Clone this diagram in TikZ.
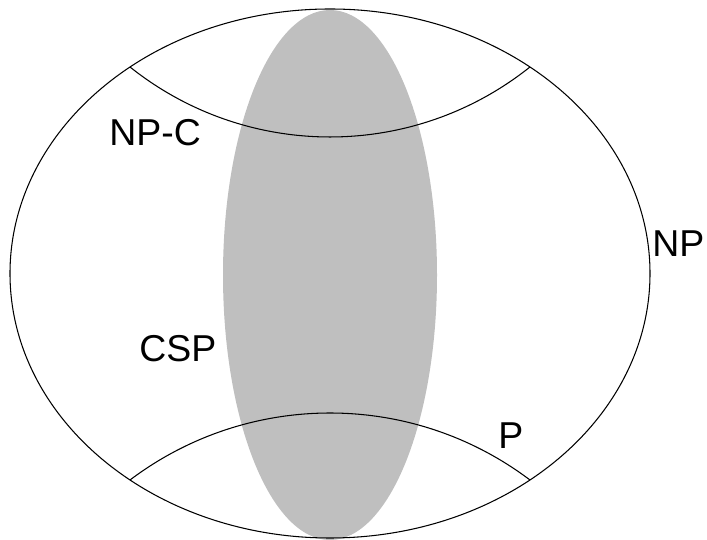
\documentclass[tikz,border=0pt]{standalone}
\usepackage{fontspec}
\setmainfont{Liberation Sans}
\begin{document}
\begin{tikzpicture}[x=0.02cm,y=0.02cm,outline/.style={draw,line width=0.6pt},classname/.style={font=\fontsize{21.3}{25}\selectfont,inner sep=0pt,anchor=base west}]
\useasboundingbox (0,0) rectangle (707,540);
\fill[black!25] (330,265) ellipse [x radius=107,y radius=265];
\draw[outline] (330,266.5) ellipse [x radius=320,y radius=264.5];
% NP-complete and P caps
\draw[outline] (130,473) arc[start angle=231.42,end angle=308.58,radius=320.7];
\draw[outline] (130,60) arc[start angle=127.04,end angle=52.96,radius=332];
\node[classname] (npc) at (109,394) {NP-C};
\node[classname] (np) at (652,283) {NP};
\node[classname] (csp) at (139,178) {CSP};
\node[classname] (p) at (498,91) {P};
\end{tikzpicture}
\end{document}
